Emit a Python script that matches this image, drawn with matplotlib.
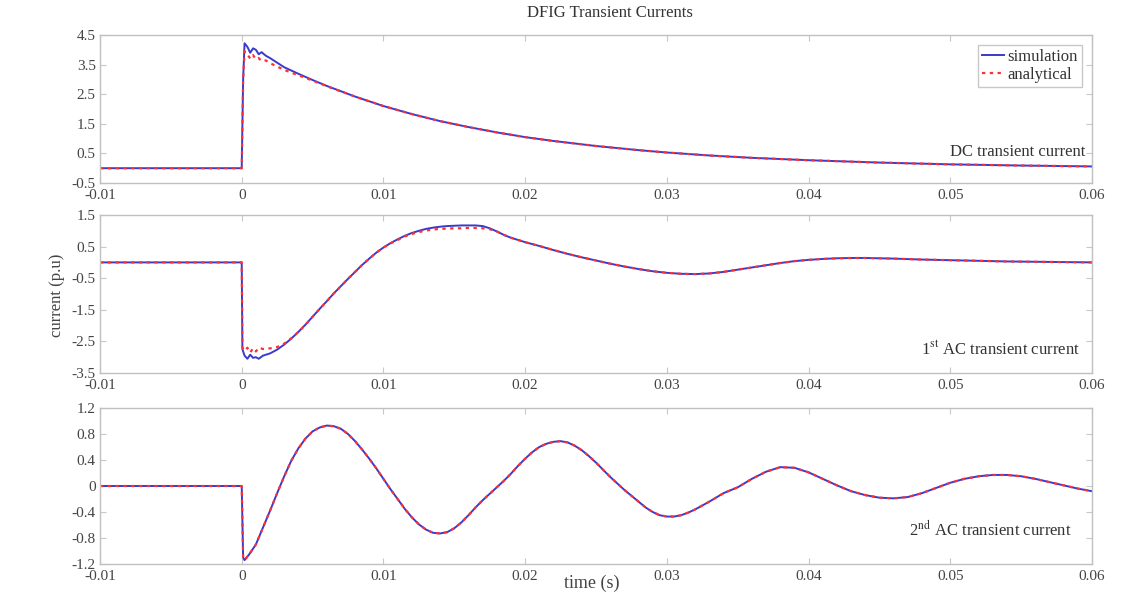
import matplotlib
matplotlib.use("Agg")
import matplotlib.pyplot as plt

plt.rcParams['font.family'] = ['Liberation Serif', 'DejaVu Serif']
plt.rcParams['mathtext.fontset'] = 'stix'

# DC transient current (p.u)
t_dc = [-0.01, 0, 0.0001, 0.0002, 0.0004, 0.0006, 0.0008, 0.001, 0.0012, 0.0014,
        0.0017, 0.002, 0.003, 0.004, 0.005, 0.006, 0.008, 0.01, 0.012, 0.014,
        0.016, 0.018, 0.02, 0.022, 0.025, 0.028, 0.03, 0.033, 0.036, 0.04,
        0.045, 0.05, 0.055, 0.06]
dc_sim = [0, 0, 3.0, 4.22, 4.1, 3.9, 4.05, 4.0, 3.85, 3.92,
          3.8, 3.72, 3.41, 3.19, 2.98, 2.78, 2.42, 2.10, 1.83, 1.59,
          1.39, 1.21, 1.05, 0.92, 0.75, 0.61, 0.53, 0.43, 0.35, 0.27,
          0.19, 0.13, 0.09, 0.06]
dc_ana = [0, 0, 3.0, 3.95, 3.85, 3.70, 3.82, 3.68, 3.72, 3.62,
          3.64, 3.55, 3.32, 3.14, 2.96, 2.77, 2.42, 2.10, 1.83, 1.59,
          1.39, 1.21, 1.05, 0.92, 0.75, 0.61, 0.53, 0.43, 0.35, 0.27,
          0.19, 0.13, 0.09, 0.06]

# 1st AC transient current (p.u)
t_ac1 = [-0.01, 0, 0.00005, 0.0002, 0.0004, 0.0006, 0.0008, 0.001, 0.0012, 0.0015,
         0.002, 0.0025, 0.003, 0.0035, 0.004, 0.0045, 0.005, 0.0055, 0.006, 0.0065,
         0.007, 0.0075, 0.008, 0.0085, 0.009, 0.0095, 0.010, 0.0105, 0.011, 0.0115,
         0.012, 0.0125, 0.013, 0.0135, 0.014, 0.0145, 0.015, 0.0155, 0.016, 0.0165,
         0.017, 0.0175, 0.018, 0.0185, 0.019, 0.0195,
         0.020, 0.021, 0.022, 0.023, 0.024, 0.025, 0.026, 0.027, 0.028, 0.029,
         0.030, 0.031, 0.032, 0.033, 0.034, 0.035, 0.036, 0.037, 0.038, 0.039,
         0.040, 0.041, 0.042, 0.043, 0.044, 0.045, 0.046,
         0.048, 0.050, 0.052, 0.054, 0.056, 0.058, 0.06]
ac1_sim = [0, 0, -2.75, -2.95, -3.05, -2.92, -3.02, -3.0, -3.05, -2.95,
           -2.88, -2.76, -2.60, -2.41, -2.20, -1.97, -1.72, -1.47, -1.23, -0.98,
           -0.75, -0.52, -0.30, -0.08, 0.12, 0.31, 0.47, 0.61, 0.73, 0.84,
           0.93, 1.00, 1.06, 1.10, 1.13, 1.15, 1.16, 1.17, 1.17, 1.17,
           1.15, 1.08, 0.98, 0.87, 0.78, 0.71,
           0.64, 0.52, 0.39, 0.27, 0.16, 0.06, -0.04, -0.13, -0.21, -0.28,
           -0.33, -0.36, -0.37, -0.35, -0.30, -0.23, -0.16, -0.09, -0.02, 0.04,
           0.08, 0.11, 0.13, 0.14, 0.14, 0.13, 0.12,
           0.09, 0.07, 0.05, 0.03, 0.02, 0.01, 0.0]
ac1_ana = [0, 0, -2.70, -2.80, -2.70, -2.85, -2.72, -2.82, -2.70, -2.74,
           -2.72, -2.68, -2.57, -2.40, -2.20, -1.97, -1.72, -1.47, -1.23, -0.98,
           -0.75, -0.52, -0.30, -0.08, 0.12, 0.31, 0.47, 0.60, 0.71, 0.82,
           0.90, 0.96, 1.01, 1.04, 1.06, 1.07, 1.08, 1.08, 1.09, 1.09,
           1.08, 1.05, 0.98, 0.87, 0.78, 0.71,
           0.64, 0.52, 0.39, 0.27, 0.16, 0.06, -0.04, -0.13, -0.21, -0.28,
           -0.33, -0.36, -0.37, -0.35, -0.30, -0.23, -0.16, -0.09, -0.02, 0.04,
           0.08, 0.11, 0.13, 0.14, 0.14, 0.13, 0.12,
           0.09, 0.07, 0.05, 0.03, 0.02, 0.01, 0.0]

# 2nd AC transient current (p.u)
t_ac2 = [-0.01, 0, 0.0001, 0.0002, 0.0005,
         0.001, 0.0015, 0.002, 0.0025, 0.003, 0.0035, 0.004, 0.0045, 0.005, 0.0055,
         0.006, 0.0065, 0.007, 0.0075, 0.008, 0.0085, 0.009, 0.0095, 0.010, 0.0105,
         0.011, 0.0115, 0.012, 0.0125, 0.013, 0.0135, 0.014, 0.0145, 0.015, 0.0155,
         0.016, 0.0165, 0.017, 0.0175, 0.018, 0.0185, 0.019, 0.0195, 0.020, 0.0205,
         0.021, 0.0215, 0.022, 0.0225, 0.023, 0.0235, 0.024, 0.0245, 0.025, 0.0255,
         0.026, 0.0265, 0.027, 0.0275, 0.028, 0.0285, 0.029, 0.0295, 0.030, 0.0305,
         0.031, 0.0315, 0.032, 0.033, 0.034, 0.035, 0.036, 0.037, 0.038, 0.039,
         0.040, 0.041, 0.042, 0.043, 0.044, 0.045, 0.046, 0.047, 0.048, 0.049,
         0.050, 0.051, 0.052, 0.053, 0.054, 0.055, 0.056, 0.057, 0.058, 0.059, 0.060]
ac2_sim = [0, 0, -1.10, -1.14, -1.06,
           -0.90, -0.64, -0.38, -0.11, 0.15, 0.39, 0.58, 0.73, 0.84, 0.90,
           0.93, 0.92, 0.88, 0.80, 0.69, 0.56, 0.42, 0.27, 0.11, -0.05,
           -0.20, -0.35, -0.48, -0.59, -0.67, -0.72, -0.73, -0.71, -0.65, -0.56,
           -0.45, -0.33, -0.22, -0.12, -0.02, 0.08, 0.19, 0.31, 0.42, 0.52,
           0.60, 0.65, 0.68, 0.69, 0.67, 0.62, 0.55, 0.46, 0.36, 0.25,
           0.14, 0.04, -0.06, -0.15, -0.24, -0.33, -0.40, -0.45, -0.47, -0.47,
           -0.45, -0.41, -0.36, -0.24, -0.11, -0.02, 0.11, 0.22, 0.29, 0.28,
           0.21, 0.11, 0.01, -0.08, -0.14, -0.18, -0.19, -0.17, -0.11, -0.03,
           0.05, 0.11, 0.15, 0.17, 0.17, 0.15, 0.11, 0.06, 0.01, -0.04, -0.08]
ac2_ana = list(ac2_sim)

xticks = [-0.01, 0, 0.01, 0.02, 0.03, 0.04, 0.05, 0.06]
xtick_labels = ['-0.01', '0', '0.01', '0.02', '0.03', '0.04', '0.05', '0.06']
yticks_dc = [-0.5, 0.5, 1.5, 2.5, 3.5, 4.5]
yticks_ac1 = [-3.5, -2.5, -1.5, -0.5, 0.5, 1.5]
yticks_ac2 = [-1.2, -0.8, -0.4, 0, 0.4, 0.8, 1.2]

fig = plt.figure(figsize=(11.37, 5.96), dpi=100)
W, H = 1137, 596
boxes = [(35, 183), (215, 373), (408, 564)]
axes = [fig.add_axes([100 / W, 1 - b / H, 992 / W, (b - t) / H]) for t, b in boxes]

panels = [
    (t_dc, dc_sim, dc_ana, yticks_dc, 'DC transient current', 0.993, 0.21),
    (t_ac1, ac1_sim, ac1_ana, yticks_ac1, r'1$^{\rm st}$ AC transient current', 0.988, 0.146),
    (t_ac2, ac2_sim, ac2_ana, yticks_ac2, r'2$^{\rm nd}$ AC transient current', 0.98, 0.218),
]

for ax, (t, sim, ana, yt, label, lx, ly) in zip(axes, panels):
    ax.plot(t, sim, color='#3a3acc', lw=1.4, label='simulation')
    ax.plot(t, ana, color='#ff3030', lw=1.6, ls=(0, (1.5, 2.0)), label='analytical')
    ax.set_xlim(-0.01, 0.06)
    ax.set_ylim(yt[0], yt[-1])
    ax.set_xticks(xticks)
    ax.set_xticklabels(xtick_labels)
    ax.set_yticks(yt)
    ax.set_yticklabels([('%g' % v) for v in yt])
    ax.tick_params(direction='in', length=4, top=True, right=True,
                   color='#c8c8c8', labelcolor='#444444', labelsize=11)
    ax.tick_params(axis='x', pad=4)
    ax.tick_params(axis='y', pad=3)
    for s in ax.spines.values():
        s.set_color('#c0c0c0')
        s.set_linewidth(1.0)
    ax.text(lx, ly, label, transform=ax.transAxes,
            ha='right', va='center', fontsize=12, color='#333333')

leg = axes[0].legend(loc='upper right', fontsize=12, handlelength=1.3,
                     handletextpad=0.2, borderpad=0.25, labelspacing=0.1,
                     fancybox=False, framealpha=1, borderaxespad=0.6)
leg.get_frame().set_edgecolor('#c8c8c8')
for txt in leg.get_texts():
    txt.set_color('#333333')

fig.text(610 / W, 1 - 13 / H, 'DFIG Transient Currents', ha='center', va='center',
         fontsize=12, color='#333333')
fig.text(57 / W, 1 - 295 / H, 'current (p.u)', rotation=90, ha='center',
         va='center', fontsize=12, color='#444444')
fig.text(592 / W, 1 - 583 / H, 'time (s)', ha='center', va='center',
         fontsize=13, color='#444444')

fig.savefig('out.png', dpi=100)
